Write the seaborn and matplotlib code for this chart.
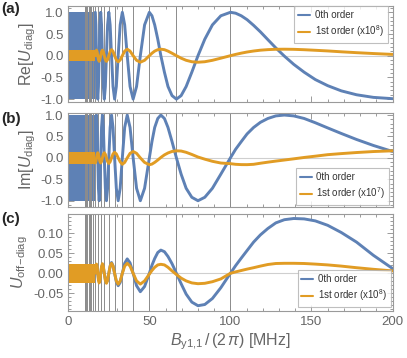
import matplotlib
matplotlib.use('Agg')
import matplotlib.pyplot as plt
import matplotlib.ticker as mticker
import seaborn as sns

sns.set_style('ticks')
plt.rcParams['font.family'] = ['Liberation Sans', 'DejaVu Sans']
plt.rcParams['mathtext.fontset'] = 'custom'
plt.rcParams['mathtext.rm'] = 'Liberation Sans'
plt.rcParams['mathtext.it'] = 'Liberation Sans:italic'

blue = '#5e81b5'
orange = '#e19c24'
frame_gray = '#9a9a9a'
text_gray = '#666666'

b_field = [200, 188.2, 177.8, 168.4, 160, 152.4, 145.5, 139.1, 133.3, 128, 123.1, 118.5, 114.3, 110.3, 106.7, 103.2, 100,
           94.1, 88.9, 84.2, 80, 76.2, 72.7, 69.6, 66.7, 64, 61.5, 59.3, 57.1, 55.2, 53.3, 51.6, 50,
           47.06, 44.44, 42.11, 40, 38.10, 36.36, 34.78, 33.33,
           32, 30.77, 29.63, 28.57, 27.59, 26.67, 25.81, 25,
           24.24, 23.53, 22.86, 22.22, 21.62, 21.05, 20.51, 20,
           19.51, 19.05, 18.60, 18.18, 17.78, 17.39, 17.02, 16.67]

re_0th = [-0.99, -0.96, -0.90, -0.81, -0.69, -0.55, -0.38, -0.2, -0.01, 0.18, 0.37, 0.55, 0.7, 0.83, 0.92, 0.98, 1.0,
          0.92, 0.71, 0.38, 0.0, -0.38, -0.71, -0.92, -1.0, -0.92, -0.71, -0.38, 0.0, 0.38, 0.71, 0.92, 1.0,
          0.71, 0.0, -0.71, -1.0, -0.71, 0.0, 0.71, 1.0,
          0.71, 0.0, -0.71, -1.0, -0.71, 0.0, 0.71, 1.0,
          0.71, 0.0, -0.71, -1.0, -0.71, 0.0, 0.71, 1.0,
          0.71, 0.0, -0.71, -1.0, -0.71, 0.0, 0.71, 1.0]
re_1st = [0.03, 0.05, 0.07, 0.09, 0.11, 0.125, 0.138, 0.147, 0.15, 0.148, 0.14, 0.127, 0.108, 0.085, 0.059, 0.03, 0.0,
          -0.057, -0.106, -0.139, -0.15, -0.139, -0.106, -0.057, 0.0, 0.057, 0.106, 0.139, 0.15, 0.139, 0.106, 0.057, 0.0,
          -0.106, -0.15, -0.106, 0.0, 0.106, 0.15, 0.106, 0.0,
          -0.099, -0.14, -0.099, 0.0, 0.099, 0.14, 0.099, 0.0,
          -0.092, -0.13, -0.092, 0.0, 0.092, 0.13, 0.092, 0.0,
          -0.092, -0.13, -0.092, 0.0, 0.092, 0.13, 0.092, 0.0]

im_0th = [0.15, 0.29, 0.43, 0.57, 0.70, 0.82, 0.92, 0.98, 1.0, 0.98, 0.92, 0.83, 0.71, 0.56, 0.38, 0.2, 0.0,
          -0.38, -0.71, -0.92, -1.0, -0.92, -0.71, -0.38, 0.0, 0.38, 0.71, 0.92, 1.0, 0.92, 0.71, 0.38, 0.0,
          -0.71, -1.0, -0.71, 0.0, 0.71, 1.0, 0.71, 0.0,
          -0.71, -1.0, -0.71, 0.0, 0.71, 1.0, 0.71, 0.0,
          -0.71, -1.0, -0.71, 0.0, 0.71, 1.0, 0.71, 0.0,
          -0.71, -1.0, -0.71, 0.0, 0.71, 1.0, 0.71, 0.0]
im_1st = [0.165, 0.148, 0.125, 0.10, 0.075, 0.04, 0.01, -0.022, -0.05, -0.075, -0.10, -0.125, -0.15, -0.158, -0.157, -0.15, -0.135,
          -0.12, -0.08, -0.03, 0.02, 0.08, 0.13, 0.16, 0.165, 0.15, 0.115, 0.07, 0.01, -0.05, -0.105, -0.145, -0.16,
          -0.106, 0.0, 0.106, 0.15, 0.106, 0.0, -0.106, -0.15,
          -0.092, 0.0, 0.092, 0.13, 0.092, 0.0, -0.092, -0.13,
          -0.085, 0.0, 0.085, 0.12, 0.085, 0.0, -0.085, -0.12,
          -0.085, 0.0, 0.085, 0.12, 0.085, 0.0, -0.085, -0.12]

off_0th = [0.012, 0.045, 0.078, 0.102, 0.12, 0.131, 0.136, 0.137, 0.134, 0.126, 0.112, 0.096, 0.078, 0.057, 0.038, 0.019, 0.0,
           -0.036, -0.063, -0.078, -0.081, -0.072, -0.052, -0.026, 0.0, 0.024, 0.042, 0.054, 0.058, 0.052, 0.037, 0.02, 0.0,
           -0.033, -0.046, -0.031, 0.0, 0.026, 0.036, 0.025, 0.0,
           -0.023, -0.031, -0.021, 0.0, 0.019, 0.027, 0.018, 0.0,
           -0.017, -0.023, -0.016, 0.0, 0.015, 0.021, 0.015, 0.0,
           -0.014, -0.019, -0.013, 0.0, 0.012, 0.017, 0.012, 0.0]
off_1st = [0.006, 0.01, 0.014, 0.018, 0.021, 0.023, 0.0245, 0.025, 0.025, 0.0245, 0.022, 0.018, 0.014, 0.0105, 0.007, 0.0035, 0.0,
           -0.014, -0.021, -0.025, -0.026, -0.024, -0.019, -0.012, -0.003, 0.006, 0.015, 0.021, 0.0225, 0.021, 0.015, 0.007, -0.002,
           -0.019, -0.027, -0.019, 0.0, 0.018, 0.025, 0.018, 0.0,
           -0.019, -0.027, -0.019, 0.0, 0.018, 0.025, 0.018, 0.0,
           -0.018, -0.025, -0.018, 0.0, 0.017, 0.024, 0.017, 0.0,
           -0.018, -0.024, -0.018, 0.0, 0.017, 0.023, 0.017, 0.0]

# fast oscillations below ~17 MHz show up as solid bands (lower, upper)
band_x = [0.3, 16.7]
band_0th = [(-1.0, 1.0), (-1.0, 1.0), (-0.016, 0.016)]
band_1st = [(-0.13, 0.13), (-0.15, 0.13), (-0.023, 0.023)]

# resonance markers (grey vertical lines)
resonances = [100, 66.67, 50, 40, 33.33, 28.57, 25, 22.22, 20, 18.18, 16.67, 15.38,
              14.29, 13.33, 12.5, 11.76, 11.11, 10.53, 10]

panels = [
    ('(a)', 'Re[$U_{\\mathrm{diag}}$]', re_0th, re_1st, '1st order (x10$^{8}$)',
     (-1.06, 1.145), [-1.0, -0.5, 0.0, 0.5, 1.0], '%.1f', 0.1, 'upper right', (0.985, 0.995)),
    ('(b)', 'Im[$U_{\\mathrm{diag}}$]', im_0th, im_1st, '1st order (x10$^{7}$)',
     (-1.14, 1.055), [-1.0, -0.5, 0.0, 0.5, 1.0], '%.1f', 0.1, 'lower right', (0.99, 0.02)),
    ('(c)', '$U_{\\mathrm{off\\!-\\!diag}}$', off_0th, off_1st, '1st order (x10$^{8}$)',
     (-0.0935, 0.1475), [-0.05, 0.0, 0.05, 0.10], '%.2f', 0.01, 'lower right', (0.995, 0.04)),
]

fig = plt.figure(figsize=(4.07, 3.58), dpi=100)
rects = [[0.1678, 0.7159, 0.7966, 0.2673],
         [0.1678, 0.4226, 0.7966, 0.2626],
         [0.1678, 0.1321, 0.7966, 0.2693]]
label_y = [0.995, 0.688, 0.408]

for i, (tag, ylab, y0, y1, lab1, ylim, yticks, fmt, yminor, loc, anchor) in enumerate(panels):
    ax = fig.add_axes(rects[i])
    ax.axhline(0, color='#cfcfcf', lw=0.8, zorder=0.5)
    ax.fill_between(band_x, band_0th[i][0], band_0th[i][1], color=blue, lw=0, zorder=1)
    for r in resonances:
        ax.axvline(r, color='#8c8c8c', lw=0.7, zorder=1.5)
    ax.fill_between(band_x, band_1st[i][0], band_1st[i][1], color=orange, lw=0, zorder=2.5)
    sns.lineplot(x=b_field, y=y0, ax=ax, color=blue, lw=2.1, label='0th order', zorder=2)
    sns.lineplot(x=b_field, y=y1, ax=ax, color=orange, lw=2.1, label=lab1, zorder=3)

    ax.set_xlim(0, 200)
    ax.set_ylim(*ylim)
    ax.set_xticks([0, 50, 100, 150, 200])
    ax.xaxis.set_minor_locator(mticker.MultipleLocator(10))
    ax.set_yticks(yticks)
    ax.yaxis.set_minor_locator(mticker.MultipleLocator(yminor))
    ax.yaxis.set_major_formatter(mticker.FormatStrFormatter(fmt))
    ax.tick_params(which='both', direction='in', top=True, right=True,
                   color=frame_gray, labelcolor=text_gray, labelsize=9.5, width=0.7)
    ax.tick_params(which='major', length=4)
    ax.tick_params(which='minor', length=2)
    for s in ax.spines.values():
        s.set_color(frame_gray)
        s.set_linewidth(0.8)
    if i < 2:
        ax.set_xticklabels([])
    else:
        ax.set_xlabel('$B_{\\mathrm{y1{,}1}}\\,/\\,(2\\,\\pi)$ [MHz]', fontsize=11.5,
                      color=text_gray, labelpad=3)
    ax.set_ylabel(ylab, fontsize=11.5, color=text_gray, labelpad=2)

    leg = ax.legend(loc=loc, bbox_to_anchor=anchor, borderaxespad=0, fontsize=7,
                    frameon=True, fancybox=False, handlelength=1.2, handletextpad=0.5,
                    borderpad=0.4, labelspacing=0.3)
    leg.get_frame().set_edgecolor('#b0b0b0')
    leg.get_frame().set_linewidth(0.8)
    for t in leg.get_texts():
        t.set_color('#333333')
    for h in leg.get_lines():
        h.set_linewidth(1.5)

    fig.text(0.003, label_y[i], tag, fontsize=11, fontweight='bold', va='top', ha='left')

plt.savefig('out.png', dpi=100)
plt.close()
